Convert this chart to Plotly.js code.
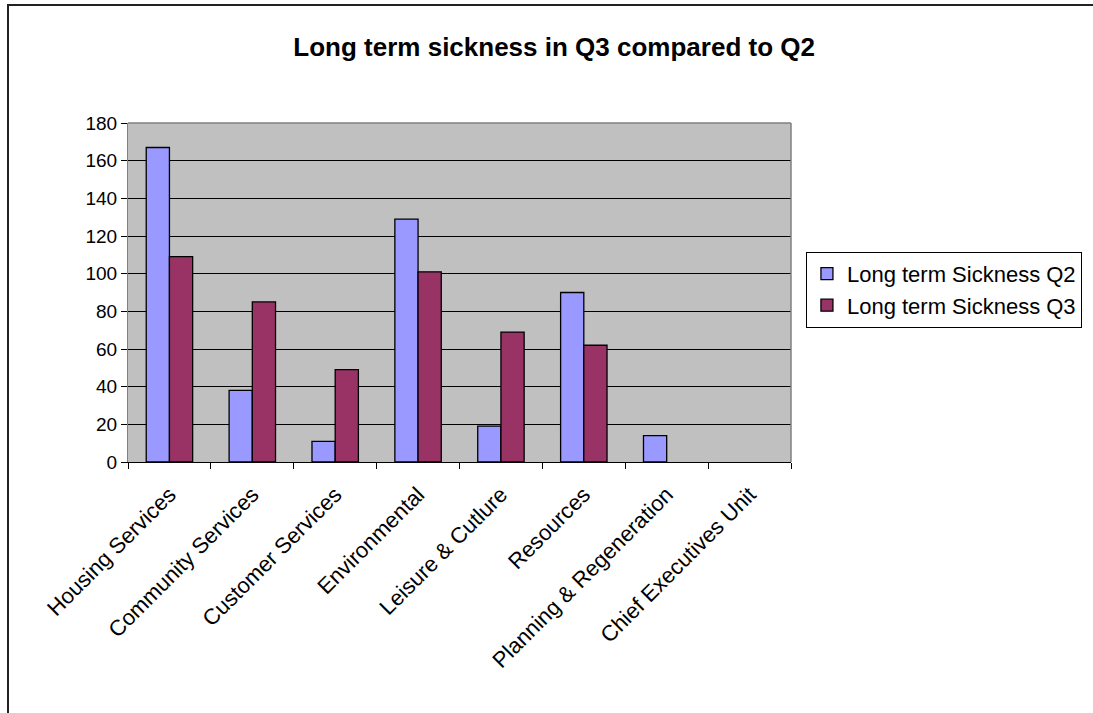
<!DOCTYPE html>
<html>
<head>
<meta charset="utf-8">
<script src="https://cdn.plot.ly/plotly-3.0.1.min.js"></script>
<style>
html, body { margin: 0; padding: 0; background: #fff; }
#wrap { position: relative; width: 1093px; height: 713px; overflow: hidden; }
#frame { position: absolute; left: 7px; top: 4px; width: 1200px; height: 800px; border-top: 2px solid #222; border-left: 2px solid #222; pointer-events: none; }
#chart { position: absolute; left: 0; top: 0; width: 1093px; height: 713px; }
</style>
</head>
<body>
<div id="wrap">
<div id="chart"></div>
<div id="frame"></div>
</div>
<script>
const categories = ["Housing Services", "Community Services", "Customer Services", "Environmental", "Leisure & Cutlure", "Resources", "Planning & Regeneration", "Chief Executives Unit"];
const q2Values = [167, 38, 11, 129, 19, 90, 14, null];
const q3Values = [109, 85, 49, 101, 69, 62, null, null];
const seriesNames = ["Long term Sickness Q2", "Long term Sickness Q3"];
const yTicks = [0, 20, 40, 60, 80, 100, 120, 140, 160, 180];

const font = "Liberation Sans, Arial, sans-serif";
const traces = [
  { type: "bar", name: seriesNames[0], x: categories, y: q2Values,
    marker: { color: "#9999FF", line: { color: "#000", width: 1.3 } } },
  { type: "bar", name: seriesNames[1], x: categories, y: q3Values,
    marker: { color: "#993366", line: { color: "#000", width: 1.3 } } }
];
const layout = {
  width: 1093, height: 713,
  margin: { l: 128, r: 301, t: 123, b: 251 },
  paper_bgcolor: "#fff",
  plot_bgcolor: "#C0C0C0",
  font: { family: font, size: 19, color: "#000" },
  title: { text: "<b>Long term sickness in Q3 compared to Q2</b>", font: { family: font, size: 26, color: "#000" }, x: 0.507, xanchor: "center", y: 0.934, yanchor: "middle" },
  barmode: "group",
  bargap: 0.44,
  bargroupgap: 0,
  showlegend: true,
  legend: { x: 1.021, xanchor: "left", y: 0.62, yanchor: "top", bgcolor: "#fff", bordercolor: "#000", borderwidth: 1, font: { family: font, size: 22 }, itemwidth: 30, tracegroupgap: 0 },
  xaxis: { type: "category", tickangle: -45, ticks: "outside", ticklen: 6, tickcolor: "#000", tickson: "boundaries", ticklabelstandoff: 10, showline: true, linecolor: "#000", linewidth: 1, showgrid: false, tickfont: { family: font, size: 22 }, automargin: false },
  yaxis: { range: [0, 180], tickvals: yTicks, ticks: "outside", ticklen: 6, tickcolor: "#000", showline: true, linecolor: "#808080", linewidth: 1, showgrid: true, gridcolor: "#000", gridwidth: 1, zeroline: false, tickfont: { family: font, size: 19 }, automargin: false },
  shapes: [
    { type: "line", xref: "paper", yref: "paper", x0: 0, x1: 1, y0: 1, y1: 1, line: { color: "#808080", width: 1.5 } },
    { type: "line", xref: "paper", yref: "paper", x0: 1, x1: 1, y0: 0, y1: 1, line: { color: "#808080", width: 1.5 } }
  ]
};
Plotly.newPlot("chart", traces, layout, { displayModeBar: false, staticPlot: true });
</script>
</body>
</html>
